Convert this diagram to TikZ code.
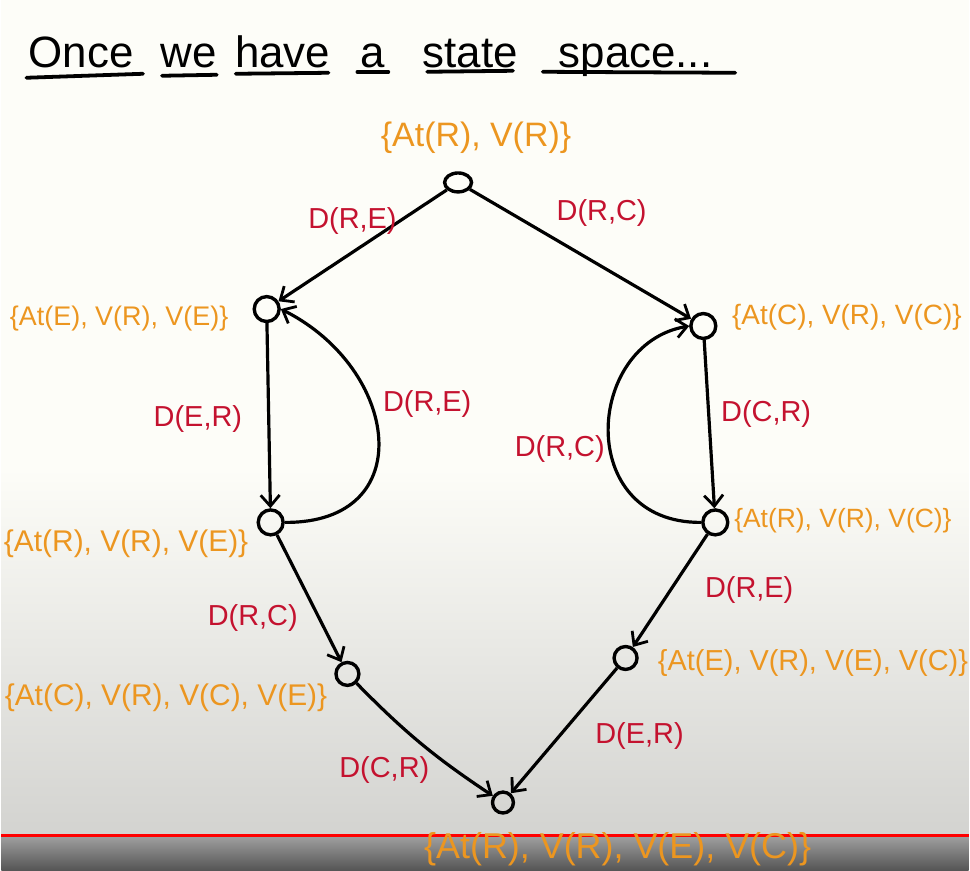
\documentclass[tikz,border=0pt]{standalone}
\usepackage{fontspec}
\setmainfont{Liberation Sans}
\usetikzlibrary{arrows.meta,shapes.geometric}
\definecolor{orng}{HTML}{EC9620}
\definecolor{redl}{HTML}{C4122F}
\definecolor{bgtop}{HTML}{FDFDF8}
\definecolor{bgmid}{HTML}{D3D3D0}
\definecolor{barA}{HTML}{A3A3A3}
\definecolor{barB}{HTML}{555555}
\newcommand{\fs}[1]{\fontsize{#1}{#1}\selectfont}
\begin{document}
\begin{tikzpicture}[x=1pt,y=-1pt,
  state/.style={circle,draw,line width=3.4pt,minimum size=25pt,inner sep=0},
  act/.style={text=redl,font=\fs{29},inner sep=0},
  setlbl/.style={text=orng,inner sep=0},
  edge/.style={line width=3.2pt,-{Straight Barb[length=11pt,width=19pt,line width=2.8pt]}},
  word/.style={inner sep=0,anchor=base,font=\fs{44}},
  uline/.style={line width=3.8pt,line cap=round}]
% background
\fill[bgtop] (0,0) rectangle (970,470);
\shade[top color=bgtop,bottom color=bgmid] (0,470) rectangle (970,837);
\shade[top color=barA,bottom color=barB] (0,837) rectangle (970,873);
\draw[red,line width=3pt] (0,838) -- (970,838);
\useasboundingbox (0,0) rectangle (970,873);
% title
\node[word] (w1) at (80,68) {Once};
\node[word] (w2) at (188,68) {we};
\node[word] (w3) at (282,68) {have};
\node[word] (w4) at (372,68) {a};
\node[word] (w5) at (470,68) {state};
\node[word] (w6) at (636,68) {space...};
\draw[uline] (25,78) -- (142,74);
\draw[uline] (161,76) -- (216,75);
\draw[uline] (235,74) -- (328,73);
\draw[uline] (357,72) -- (388,72);
\draw[uline] (427,72) -- (513,71);
\draw[uline] (543,72) -- (736,73);
% states
\node[state,ellipse,minimum width=27pt,minimum height=19pt] (n0) at (458,183) {};
\node[state] (n1) at (266,310) {};
\node[state] (n2) at (704,327) {};
\node[state] (n3) at (270,524) {};
\node[state] (n4) at (716,524) {};
\node[state,minimum size=23pt] (n5) at (347,676) {};
\node[state,minimum size=23pt] (n6) at (626,660) {};
\node[state,minimum size=21pt] (n7) at (503,805) {};
% set labels
\node[setlbl,font=\fs{34}] (s0) at (476,138) {\{At(R), V(R)\}};
\node[setlbl,font=\fs{27}] (s1) at (118,320) {\{At(E), V(R), V(E)\}};
\node[setlbl,font=\fs{28}] (s2) at (848,318) {\{At(C), V(R), V(C)\}};
\node[setlbl,font=\fs{30}] (s3) at (125,545) {\{At(R), V(R), V(E)\}};
\node[setlbl,font=\fs{26.5}] (s4) at (844,522) {\{At(R), V(R), V(C)\}};
\node[setlbl,font=\fs{30}] (s5) at (165,700) {\{At(C), V(R), V(C), V(E)\}};
\node[setlbl,font=\fs{29}] (s6) at (814,665) {\{At(E), V(R), V(E), V(C)\}};
\node[setlbl,font=\fs{36}] (s7) at (618,852) {\{At(R), V(R), V(E), V(C)\}};
% edges
\draw[edge] (n0) -- (n1);
\draw[edge] (n0) -- (n2);
\draw[edge] (n1) -- (n3);
\draw[edge] (n2) -- (n4);
\draw[edge] (n3.east) .. controls (420,525) and (400,370) .. (n1.east);
\draw[edge] (n4.west) .. controls (575,525) and (585,345) .. (n2.west);
\draw[edge] (n3) -- (n5);
\draw[edge] (n4) -- (n6);
\draw[edge] (n5) to[bend right=6] (n7);
\draw[edge] (n6) -- (n7);
% action labels
\node[act] (a1) at (352,222) {D(R,E)};
\node[act] (a2) at (602,214) {D(R,C)};
\node[act] (a3) at (197,420) {D(E,R)};
\node[act] (a4) at (427,405) {D(R,E)};
\node[act] (a5) at (767,415) {D(C,R)};
\node[act] (a6) at (560,450) {D(R,C)};
\node[act] (a7) at (252,620) {D(R,C)};
\node[act] (a8) at (750,592) {D(R,E)};
\node[act] (a9) at (384,772) {D(C,R)};
\node[act] (a10) at (640,738) {D(E,R)};
\end{tikzpicture}
\end{document}
